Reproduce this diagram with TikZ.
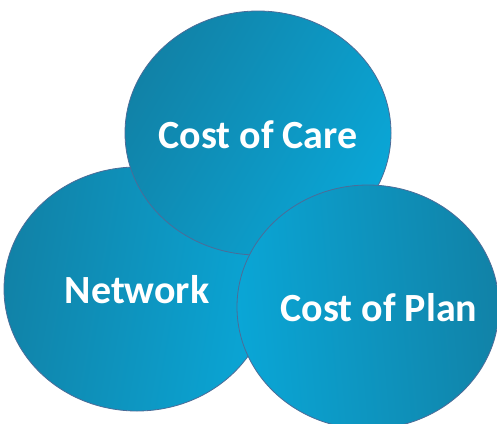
\documentclass[tikz,border=0pt]{standalone}
\usepackage{fontspec}
\setmainfont{Carlito}
\usetikzlibrary{shapes.geometric}
\definecolor{tdark}{HTML}{1182A7}
\definecolor{tbright}{HTML}{0AA6D6}
\definecolor{rim}{HTML}{4C6C98}
\tikzset{
  bubble/.style={ellipse, draw=rim, line width=0.8pt, minimum width=266pt, minimum height=244pt, inner sep=0pt},
  lbl/.style={text=white, font=\bfseries\fontsize{40}{44}\selectfont, inner sep=0pt}
}
\begin{document}
\begin{tikzpicture}[x=1pt,y=-1pt]
\useasboundingbox (0,0) rectangle (497,423);
\node[bubble, left color=tdark, right color=tbright, shading angle=80] (net) at (137,289) {};
\node[bubble, left color=tdark, right color=tbright, shading angle=60] (care) at (258,133) {};
\node[bubble, minimum width=262pt, left color=tbright, right color=tdark, shading angle=95] (plan) at (368,307) {};
\node[lbl] (tcare) at (258,135) {Cost of Care};
\node[lbl] (tnet) at (137,290) {Network};
\node[lbl] (tplan) at (379,308) {Cost of Plan};
\end{tikzpicture}
\end{document}
